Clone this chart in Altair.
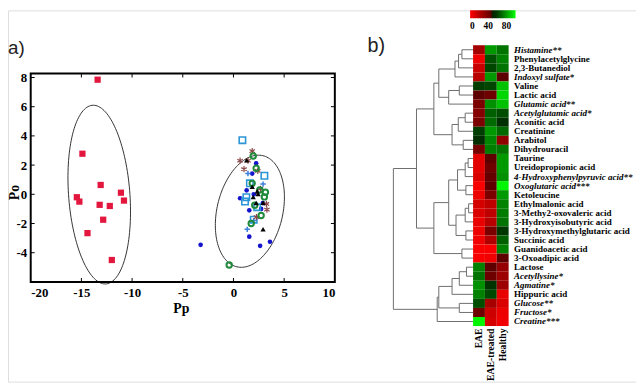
import altair as alt
import numpy as np
import pandas as pd

W, H = 636, 376
SERIF = "Liberation Serif"

# ---------------- scatter data (panel a) ----------------
red_x = [-13.4, -14.9, -13.1, -11.1, -15.45, -15.2, -10.8, -13.2, -12.2, -12.85, -14.4, -12.0]
red_y = [7.85, 2.78, 0.64, 0.11, -0.2, -0.5, -0.43, -0.72, -0.8, -1.74, -2.66, -4.5]
blue_x = [-3.24, 2.24, 1.85, 1.3, 0.65, 1.56, 2.73, 1.56, 2.63, 3.6, 2.9, 2.0]
blue_y = [-3.46, 2.12, 1.42, 0.27, -0.27, -1.1, -1.0, -2.9, -3.53, -3.25, -0.6, 0.0]
sq_x = [0.88, 3.05, 1.62, 1.27, 1.14, 2.34, 2.0]
sq_y = [3.71, 1.27, 0.75, -0.2, -0.5, -0.88, -1.74]
plus_x = [1.43, 2.92, 1.36, 2.0]
plus_y = [1.42, 0.7, -2.4, -1.8]
star_x = [1.85, 0.65, 1.43, 1.04, 2.4, 3.25, 3.3, 2.27, 2.66]
star_y = [2.96, 2.3, 2.3, 1.72, 1.6, -0.66, -1.05, -1.56, 0.38]
grn_x = [1.95, 2.24, 1.85, 3.15, 3.05, 2.73, 1.75, -0.42, 2.1, 2.6]
grn_y = [2.62, 1.78, 0.75, 0.14, -0.18, -1.45, -2.0, -4.84, -0.75, 0.3]
tri_x = [1.3, 1.85, 2.43, 1.95, 2.24, 2.92, 2.92, 2.34]
tri_y = [2.33, 0.52, 0.03, -0.18, -0.6, -0.58, -2.4, 0.2]

# confidence ellipses: centre, radii, shear
ell_cx = [-13.24, 1.62]
ell_cy = [-0.02, -1.16]
ell_rx = [3.03, 3.30]
ell_ry = [6.12, 3.84]
ell_k = [-0.585, 0.85]

x_lim = [-20, 10]
y_lim = [-6, 8.27]
x_ticks = [-20, -15, -10, -5, 0, 5, 10]
y_ticks = [-4, -2, 0, 2, 4, 6, 8]

# ---------------- heatmap data (panel b) ----------------
metabolites = ["Histamine**", "Phenylacetylglycine", "2,3-Butanediol", "Indoxyl sulfate*", "Valine",
               "Lactic acid", "Glutamic acid**", "Acetylglutamic acid*", "Aconitic acid", "Creatinine",
               "Arabitol", "Dihydrouracil", "Taurine", "Ureidopropionic acid",
               "4-Hydroxyphenylpyruvic acid**", "Oxoglutaric acid***", "Ketoleucine", "Ethylmalonic acid",
               "3-Methy2-oxovaleric acid", "3-Hydroxyisobutyric acid", "3-Hydroxymethylglutaric acid",
               "Succinic acid", "Guanidoacetic acid", "3-Oxoadipic acid", "Lactose", "Acetyllysine*",
               "Agmatine*", "Hippuric acid", "Glucose**", "Fructose*", "Creatine***"]
groups = ["EAE", "EAE-treated", "Healthy"]
eae = [26, 5, 15, 20, 60, 48, 38, 35, 38, 60, 55, 40, 8, 8, 10, 2, 5, 12, 10, 6, 5, 4, 1, 2, 75, 72, 78, 75, 64, 42, 98]
treated = [80, 65, 62, 80, 62, 42, 78, 68, 70, 80, 76, 74, 48, 42, 45, 48, 38, 18, 18, 20, 38, 22, 2, 4, 48, 42, 57, 63, 25, 14, 12]
healthy = [72, 75, 72, 48, 88, 92, 88, 64, 56, 70, 32, 72, 80, 80, 78, 98, 80, 75, 74, 72, 58, 68, 75, 48, 30, 28, 28, 6, 10, 5, 4]
legend_ticks = [0, 40, 80]

# dendrogram merges (leaves 0..30, new node id = 31 + k)
merge_a = [0, 31, 32, 4, 34, 33, 7, 37, 10, 38, 36, 12, 42, 15, 43, 17, 46, 20, 47, 45, 22, 50, 41, 24, 54, 55, 28, 56, 58, 53]
merge_b = [1, 2, 3, 5, 6, 35, 8, 9, 11, 39, 40, 13, 14, 16, 44, 18, 19, 21, 48, 49, 23, 51, 52, 25, 26, 27, 29, 57, 30, 59]
merge_h = [0.14, 0.182, 0.227, 0.173, 0.306, 0.43, 0.099, 0.186, 0.124, 0.264, 0.492, 0.062, 0.099, 0.09,
           0.195, 0.056, 0.099, 0.09, 0.214, 0.306, 0.14, 0.492, 0.71, 0.083, 0.173, 0.264, 0.173, 0.43, 0.45, 1.0]

# ---------------- scatter panel ----------------
SX = alt.Scale(domain=x_lim, range=[23, 331], nice=False, zero=False)
SY = alt.Scale(domain=y_lim, range=[275, 64], nice=False, zero=False)
minus_expr = "datum.value < 0 ? '-' + abs(datum.value) : '' + datum.value"
AX = alt.Axis(orient="bottom", offset=-101, values=x_ticks, labelFlush=True, labelPadding=5,
              ticks=False, domain=False, grid=False, labelExpr=minus_expr,
              labelFont=SERIF, labelFontWeight="bold", labelFontSize=13, labelColor="black",
              title="Pp", titleFont=SERIF, titleFontWeight="bold", titleFontSize=14, titleColor="black",
              titleX=175, titleY=27, titleAlign="center", titleBaseline="middle")
AY = alt.Axis(orient="left", offset=-23, values=y_ticks, labelPadding=4,
              ticks=False, domain=False, grid=False, labelExpr=minus_expr,
              labelFont=SERIF, labelFontWeight="bold", labelFontSize=13, labelColor="black",
              title="Po", titleFont=SERIF, titleFontWeight="bold", titleFontSize=14, titleColor="black",
              titleX=-16, titleY=184, titleAngle=270, titleAlign="center", titleBaseline="middle")


def exy(xf="x", yf="y"):
    return dict(x=alt.X(f"{xf}:Q", scale=SX, axis=AX), y=alt.Y(f"{yf}:Q", scale=SY, axis=AY))


frame = alt.Chart(pd.DataFrame({"x": [x_lim[0]], "x2": [x_lim[1]], "y": [y_lim[0]], "y2": [y_lim[1]]})).mark_rect(
    fill="transparent", stroke="black", strokeWidth=2).encode(x2="x2:Q", y2="y2:Q", **exy())

inner_x = x_ticks[1:-1]
inner_y = y_ticks
tb = pd.DataFrame({"x": inner_x, "y": [y_lim[0]] * len(inner_x)})
tt = pd.DataFrame({"x": inner_x, "y": [y_lim[1]] * len(inner_x)})
tl = pd.DataFrame({"x": [x_lim[0]] * len(inner_y), "y": inner_y})
tr = pd.DataFrame({"x": [x_lim[1]] * len(inner_y), "y": inner_y})
tick_b = alt.Chart(tb).mark_rule(color="black", strokeWidth=1, y2Offset=-4).encode(y2="y:Q", **exy())
tick_t = alt.Chart(tt).mark_rule(color="black", strokeWidth=1, y2Offset=4).encode(y2="y:Q", **exy())
tick_l = alt.Chart(tl).mark_rule(color="black", strokeWidth=1, x2Offset=4).encode(x2="x:Q", **exy())
tick_r = alt.Chart(tr).mark_rule(color="black", strokeWidth=1, x2Offset=-4).encode(x2="x:Q", **exy())

t = np.linspace(0, 2 * np.pi, 145)
ell_rows = []
for i in range(len(ell_cx)):
    for j, tv in enumerate(t):
        ell_rows.append({"id": i, "o": j,
                         "x": ell_cx[i] + ell_rx[i] * np.cos(tv) + ell_k[i] * np.sin(tv),
                         "y": ell_cy[i] + ell_ry[i] * np.sin(tv)})
ellipses = alt.Chart(pd.DataFrame(ell_rows)).mark_line(color="#333333", strokeWidth=1, clip=True).encode(
    detail="id:N", order="o:Q", **exy())


def pts(xs, ys, **mk):
    return alt.Chart(pd.DataFrame({"x": xs, "y": ys})).mark_point(opacity=1, **mk).encode(**exy())


STAR = "M0,-1L0,1M-0.87,-0.5L0.87,0.5M-0.87,0.5L0.87,-0.5"
PLUS = "M-1,0L1,0M0,-1L0,1"
scatter = alt.layer(
    ellipses,
    pts(red_x, red_y, shape="square", filled=True, color="#e3173e", size=40),
    pts(blue_x, blue_y, shape="circle", filled=True, color="#1414cc", size=22),
    pts(sq_x, sq_y, shape="square", filled=False, color="#2b95d6", size=42, strokeWidth=1.6),
    pts(plus_x, plus_y, shape=PLUS, filled=False, color="#3b7fdc", size=30, strokeWidth=1.5),
    pts(star_x, star_y, shape=STAR, filled=False, color="#8a4848", size=40, strokeWidth=1.2),
    pts(grn_x, grn_y, shape="circle", filled=False, color="#1f8a3a", size=30, strokeWidth=2),
    pts(tri_x, tri_y, shape="triangle-up", filled=True, color="black", size=28),
    tick_b, tick_t, tick_l, tick_r,
    frame,
)

# ---------------- dendrogram ----------------
n_leaf = len(metabolites)
node_y = [i + 0.5 for i in range(n_leaf)]
node_h = [0.0] * n_leaf
segs = []
for a, b, h in zip(merge_a, merge_b, merge_h):
    segs.append({"x1": h, "x2": h, "y1": node_y[a], "y2": node_y[b]})
    segs.append({"x1": node_h[a], "x2": h, "y1": node_y[a], "y2": node_y[a]})
    segs.append({"x1": node_h[b], "x2": h, "y1": node_y[b], "y2": node_y[b]})
    node_y.append((node_y[a] + node_y[b]) / 2)
    node_h.append(h)
dendro = alt.Chart(pd.DataFrame(segs)).mark_rule(color="#6e6e6e", strokeWidth=1).encode(
    x=alt.X("x1:Q", scale=alt.Scale(domain=[0, 1], range=[471, 390.3], nice=False, zero=False), axis=None),
    x2="x2:Q",
    y=alt.Y("y1:Q", scale=alt.Scale(domain=[0, n_leaf], range=[35.3, 319.7], nice=False, zero=False), axis=None),
    y2="y2:Q",
)

# ---------------- heatmap ----------------
heat_rows = []
for g, vals in zip(groups, [eae, treated, healthy]):
    for m, v in zip(metabolites, vals):
        heat_rows.append({"row": m, "col": g, "value": v})
heat = alt.Chart(pd.DataFrame(heat_rows)).mark_rect().encode(
    x=alt.X("col:N", sort=groups,
            scale=alt.Scale(domain=groups, range=[471, 507], paddingInner=0, paddingOuter=0),
            axis=alt.Axis(orient="bottom", offset=-56.3, title=None, ticks=False, domain=False,
                          labelAngle=270, labelAlign="right", labelBaseline="middle", labelPadding=2,
                          labelFont=SERIF, labelFontWeight="bold", labelFontSize=9.8, labelColor="black")),
    y=alt.Y("row:N", sort=metabolites,
            scale=alt.Scale(domain=metabolites, range=[35.3, 319.7], paddingInner=0, paddingOuter=0),
            axis=alt.Axis(orient="right", offset=-129, title=None, ticks=False, domain=False,
                          labelPadding=5, labelLimit=400, labelBaseline="middle",
                          labelFont=SERIF, labelFontWeight="bold", labelFontSize=9.1, labelColor="black",
                          labelFontStyle={"condition": {"test": "indexof(datum.value, '*') >= 0",
                                                        "value": "italic"}, "value": "normal"})),
    color=alt.Color("value:Q",
                    scale=alt.Scale(domain=[0, 50, 100], range=["#ff0000", "#000000", "#00ff00"]),
                    legend=alt.Legend(orient="none", legendX=468, legendY=0, direction="horizontal",
                                      gradientLength=46, gradientThickness=8, gradientStrokeWidth=0,
                                      title=None, values=legend_ticks, labelOffset=3,
                                      labelFont=SERIF, labelFontWeight="bold", labelFontSize=9.5,
                                      labelColor="black")),
)

# ---------------- panel letters ----------------
lab_a = alt.Chart(pd.DataFrame({"t": ["a)"]})).mark_text(
    font="Liberation Sans", fontSize=19, align="left", baseline="alphabetic", color="#222222").encode(
    text="t:N", x=alt.value(0), y=alt.value(44))
lab_b = alt.Chart(pd.DataFrame({"t": ["b)"]})).mark_text(
    font="Liberation Sans", fontSize=20, align="left", baseline="alphabetic", color="#222222").encode(
    text="t:N", x=alt.value(364), y=alt.value(42))

chart = alt.layer(scatter, dendro, heat, lab_a, lab_b).resolve_scale(
    x="independent", y="independent").properties(
    width=W, height=H, padding=0, autosize=alt.AutoSizeParams(type="none")
).configure_view(stroke=None).configure(background="white")

chart.save("out.html", embed_options={"renderer": "svg", "actions": False})
